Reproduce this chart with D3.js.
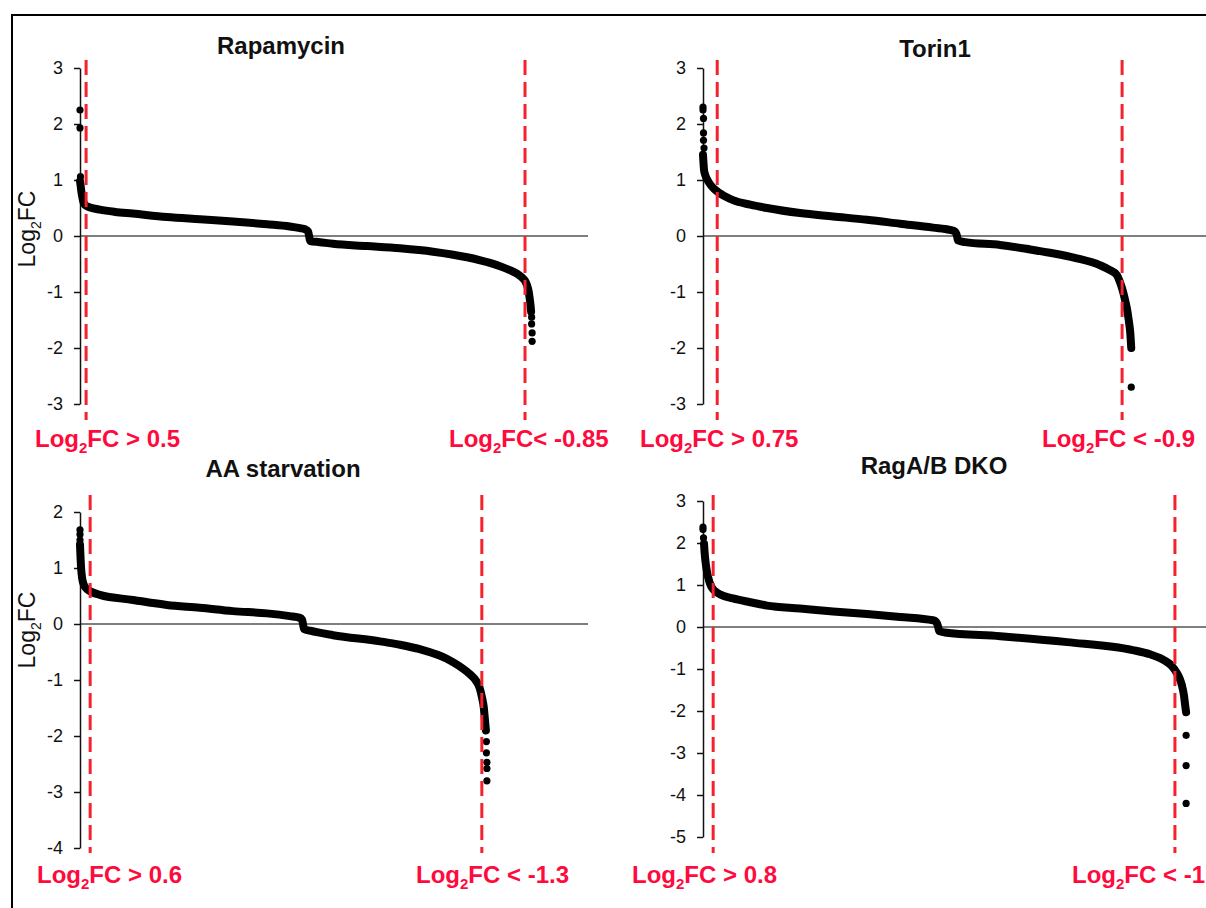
<!DOCTYPE html>
<html>
<head>
<meta charset="utf-8">
<script src="https://cdn.jsdelivr.net/npm/d3@7"></script>
<style>
body { margin: 0; background: #fff; }
svg { display: block; font-family: "Liberation Sans", Arial, Helvetica, sans-serif; }
</style>
</head>
<body>
<div id="chart"></div>
<script>
// ranks are in per-mille of the x axis, values are log2 fold change
const titles = ["Rapamycin", "Torin1", "AA starvation", "RagA/B DKO"]

const rapamycinCurve = [[0,0.98],[1,0.92],[2,0.84],[4,0.72],[6,0.63],[8,0.58],[12,0.54],[20,0.51],[39,0.47],[69,0.43],[104,0.40],[171,0.34],[236,0.30],[301,0.26],[368,0.21],[413,0.17],[433,0.14],[443,0.12],[449,0.08],[451,0.0],[453,-0.09],[472,-0.11],[498,-0.14],[565,-0.18],[630,-0.22],[695,-0.28],[762,-0.38],[807,-0.48],[827,-0.54],[846,-0.61],[860,-0.67],[870,-0.74],[876,-0.80],[880,-0.88],[883,-0.98],[885,-1.1],[887,-1.25],[888,-1.35]]
const rapamycinDots = [[0,2.25],[0,1.93],[1,1.06],[889,-1.45],[889,-1.57],[890,-1.73],[890,-1.88]]

const torinCurve = [[0,1.45],[1,1.3],[2,1.18],[4,1.1],[6,1.05],[10,0.98],[16,0.9],[22,0.84],[30,0.78],[43,0.71],[59,0.64],[93,0.56],[126,0.50],[191,0.41],[256,0.35],[323,0.29],[388,0.22],[453,0.15],[486,0.11],[496,0.08],[500,0.0],[502,-0.08],[516,-0.11],[585,-0.16],[644,-0.24],[683,-0.30],[732,-0.39],[781,-0.52],[801,-0.61],[815,-0.7],[819,-0.78],[823,-0.88],[827,-1.0],[831,-1.15],[835,-1.32],[838,-1.5],[841,-1.72],[843,-2.0]]
const torinDots = [[0,2.3],[0,2.25],[1,2.1],[1,1.84],[1,1.71],[2,1.57],[843,-2.7]]

const aaCurve = [[0,1.42],[1,1.2],[2,1.02],[4,0.83],[6,0.74],[10,0.66],[14,0.62],[39,0.52],[104,0.43],[171,0.34],[236,0.29],[301,0.23],[368,0.19],[413,0.14],[433,0.11],[437,0.08],[439,0.0],[441,-0.09],[453,-0.12],[498,-0.2],[591,-0.31],[630,-0.37],[669,-0.45],[722,-0.62],[748,-0.76],[768,-0.9],[780,-1.02],[787,-1.15],[791,-1.3],[795,-1.5],[797,-1.7],[799,-1.9]]
const aaDots = [[0,1.68],[0,1.6],[0,1.5],[800,-2.1],[800,-2.3],[801,-2.47],[801,-2.58],[801,-2.8]]

const ragCurve = [[2,1.98],[3,1.8],[5,1.55],[8,1.3],[12,1.1],[16,0.97],[22,0.87],[33,0.78],[59,0.68],[93,0.59],[126,0.51],[191,0.44],[256,0.37],[323,0.31],[388,0.24],[453,0.16],[459,0.12],[463,0.0],[465,-0.1],[476,-0.13],[585,-0.22],[717,-0.36],[846,-0.55],[880,-0.65],[900,-0.74],[909,-0.8],[923,-0.93],[933,-1.1],[939,-1.25],[943,-1.4],[947,-1.65],[949,-1.85],[951,-2.03]]
const ragDots = [[0,2.38],[0,2.32],[1,2.12],[951,-2.58],[951,-3.3],[951,-4.2]]

const rapamycinTicks = [-3,-2,-1,0,1,2,3]
const torinTicks = [-3,-2,-1,0,1,2,3]
const aaTicks = [-4,-3,-2,-1,0,1,2]
const ragTicks = [-5,-4,-3,-2,-1,0,1,2,3]

// rank where each cutoff is crossed
const rapamycinCuts = [12, 876]
const torinCuts = [28, 825]
const aaCuts = [20, 791]
const ragCuts = [20, 929]

const rapamycinCutText = ["FC > 0.5", "FC< -0.85"]
const torinCutText = ["FC > 0.75", "FC < -0.9"]
const aaCutText = ["FC > 0.6", "FC < -1.3"]
const ragCutText = ["FC > 0.8", "FC < -1"]

const red = "#f5222d"
const redText = "#ff0a3c"

const svg = d3.select("#chart").append("svg")
    .attr("width", 1206)
    .attr("height", 908)

svg.append("rect")
    .attr("x", 12).attr("y", 15)
    .attr("width", 1400).attr("height", 1000)
    .attr("fill", "none")
    .attr("stroke", "#000")
    .attr("stroke-width", 2)

const panels = [
    {title: titles[0], curve: rapamycinCurve, dots: rapamycinDots, ticks: rapamycinTicks, cuts: rapamycinCuts, cutText: rapamycinCutText,
     x0: 80, yTop: 68, yBottom: 404, titleX: 281, titleY: 54, lineTop: 60, lineBottom: 420, labelY: 447, labelX: [35, 449], yTitle: 229},
    {title: titles[1], curve: torinCurve, dots: torinDots, ticks: torinTicks, cuts: torinCuts, cutText: torinCutText,
     x0: 703, yTop: 68, yBottom: 404, titleX: 935, titleY: 57, lineTop: 60, lineBottom: 420, labelY: 447, labelX: [640, 1042]},
    {title: titles[2], curve: aaCurve, dots: aaDots, ticks: aaTicks, cuts: aaCuts, cutText: aaCutText,
     x0: 80, yTop: 512, yBottom: 848, titleX: 283, titleY: 477, lineTop: 495, lineBottom: 853, labelY: 883, labelX: [37, 416], yTitle: 630},
    {title: titles[3], curve: ragCurve, dots: ragDots, ticks: ragTicks, cuts: ragCuts, cutText: ragCutText,
     x0: 703, yTop: 501, yBottom: 837, titleX: 934, titleY: 474, lineTop: 495, lineBottom: 853, labelY: 883, labelX: [632, 1072]}
]

// "Log" + subscript 2 + rest
const addLogText = (sel, subSize, shift, rest) => {
    sel.append("tspan").text("Log")
    sel.append("tspan").text("2").attr("font-size", subSize).attr("dy", shift)
    sel.append("tspan").text(rest).attr("dy", -shift)
}

const drawPanel = p => {
    const x = d3.scaleLinear().domain([0, 1000]).range([p.x0, p.x0 + 508])
    const y = d3.scaleLinear().domain(d3.extent(p.ticks)).range([p.yBottom, p.yTop])
    const g = svg.append("g")

    g.append("line")
        .attr("x1", x(0)).attr("x2", x(1000))
        .attr("y1", y(0)).attr("y2", y(0))
        .attr("stroke", "#555")
        .attr("stroke-width", 1.5)

    g.append("g")
        .attr("transform", `translate(${x(0)},0)`)
        .call(d3.axisLeft(y).tickValues(p.ticks).tickSize(6).tickSizeOuter(0).tickPadding(11).tickFormat(d => String(d)))
        .attr("font-family", null)
        .attr("font-size", 18)
        .call(a => a.selectAll("path, line").attr("stroke", "#111").attr("stroke-width", 1.5))
        .call(a => a.selectAll("text").attr("fill", "#111"))

    const line = d3.line()
        .x(d => x(d[0]))
        .y(d => y(d[1]))
        .curve(d3.curveMonotoneX)

    g.append("path")
        .datum(p.curve)
        .attr("d", line)
        .attr("fill", "none")
        .attr("stroke", "#000")
        .attr("stroke-width", 8)
        .attr("stroke-linecap", "round")
        .attr("stroke-linejoin", "round")

    g.selectAll("circle")
        .data(p.dots)
        .join("circle")
        .attr("cx", d => x(d[0]))
        .attr("cy", d => y(d[1]))
        .attr("r", 3.6)
        .attr("fill", "#000")

    g.selectAll("line.cut")
        .data(p.cuts)
        .join("line")
        .attr("class", "cut")
        .attr("x1", d => x(d)).attr("x2", d => x(d))
        .attr("y1", p.lineTop).attr("y2", p.lineBottom)
        .attr("stroke", red)
        .attr("stroke-width", 3)
        .attr("stroke-dasharray", "15,7")

    g.append("text")
        .attr("x", p.titleX).attr("y", p.titleY)
        .attr("text-anchor", "middle")
        .attr("font-size", 24)
        .attr("font-weight", "bold")
        .attr("fill", "#111")
        .text(p.title)

    p.cutText.forEach((t, i) => {
        const lab = g.append("text")
            .attr("x", p.labelX[i]).attr("y", p.labelY)
            .attr("font-size", 24)
            .attr("font-weight", "bold")
            .attr("fill", redText)
        addLogText(lab, 15, 6, t)
    })

    if (p.yTitle) {
        const yt = g.append("text")
            .attr("transform", `translate(35,${p.yTitle}) rotate(-90)`)
            .attr("text-anchor", "middle")
            .attr("font-size", 23)
            .attr("fill", "#111")
        addLogText(yt, 14, 6, "FC")
    }
}

panels.forEach(drawPanel)
</script>
</body>
</html>
